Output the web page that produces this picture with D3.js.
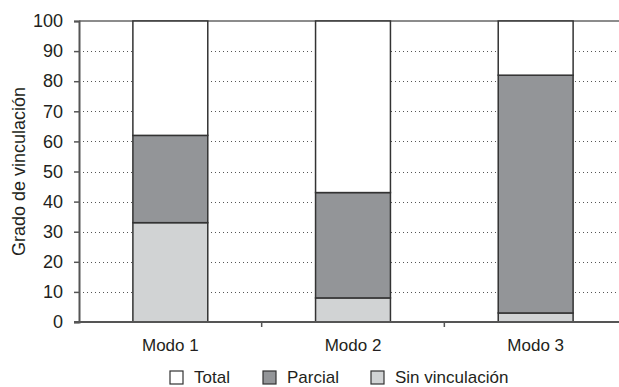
<!DOCTYPE html>
<html>
<head>
<meta charset="utf-8">
<script src="https://cdn.jsdelivr.net/npm/d3@7"></script>
<style>
  body { margin: 0; background: #fff; }
  text { font-family: "Liberation Sans", Arial, sans-serif; fill: #231f20; }
</style>
</head>
<body>
<div id="viz"></div>
<script>
const modos = ["Modo 1", "Modo 2", "Modo 3"];
const series = ["Sin vinculación", "Parcial", "Total"];
const sinVinculacion = [33, 8, 3];
const parcial = [29, 35, 79];
const total = [38, 57, 18];
const yTicks = [0, 10, 20, 30, 40, 50, 60, 70, 80, 90, 100];
const legendOrder = ["Total", "Parcial", "Sin vinculación"];

const colors = {
    "Total": "#ffffff",
    "Parcial": "#939598",
    "Sin vinculación": "#d1d3d4"
};

const width = 619;
const height = 387;
const margin = { left: 79, right: -8, top: 21, bottom: 65 };

const rows = modos.map((m, i) => ({
    modo: m,
    "Sin vinculación": sinVinculacion[i],
    "Parcial": parcial[i],
    "Total": total[i]
}));

const stacked = d3.stack().keys(series)(rows);

const svg = d3.select("#viz").append("svg")
    .attr("width", width)
    .attr("height", height);

const xScale = d3.scaleBand()
    .domain(modos)
    .range([margin.left, width - margin.right])
    .paddingInner(0.59)
    .paddingOuter(0.295);

const yScale = d3.scaleLinear()
    .domain([0, 100])
    .range([height - margin.bottom, margin.top]);

// dotted grid
svg.append("g")
    .selectAll("line")
    .data(yTicks.filter(d => d > 0 && d < 100))
    .join("line")
        .attr("x1", margin.left)
        .attr("x2", width)
        .attr("y1", d => Math.round(yScale(d)) + 0.5)
        .attr("y2", d => Math.round(yScale(d)) + 0.5)
        .attr("stroke", "#555")
        .attr("stroke-width", 1.2)
        .attr("stroke-dasharray", "1,3");

// top border
svg.append("line")
    .attr("x1", margin.left)
    .attr("x2", width)
    .attr("y1", yScale(100))
    .attr("y2", yScale(100))
    .attr("stroke", "#666")
    .attr("stroke-width", 1.5);

// bars
svg.append("g")
    .selectAll("g")
    .data(stacked)
    .join("g")
        .attr("fill", d => colors[d.key])
    .selectAll("rect")
    .data(d => d)
    .join("rect")
        .attr("x", d => xScale(d.data.modo))
        .attr("y", d => yScale(d[1]))
        .attr("width", xScale.bandwidth())
        .attr("height", d => yScale(d[0]) - yScale(d[1]))
        .attr("stroke", "#333")
        .attr("stroke-width", 1.5);

// y axis
const yAxis = svg.append("g")
    .attr("transform", `translate(${margin.left},0)`)
    .call(d3.axisLeft(yScale).tickValues(yTicks).tickSize(5).tickPadding(11));
yAxis.select(".domain").attr("stroke", "#555").attr("stroke-width", 2);
yAxis.selectAll(".tick line").attr("stroke", "#555").attr("stroke-width", 1.5);
yAxis.selectAll("text").style("font-size", "18px").attr("fill", "#231f20");

// x axis
const xAxis = svg.append("g")
    .attr("transform", `translate(0,${yScale(0)})`);
xAxis.append("line")
    .attr("x1", margin.left - 5)
    .attr("x2", width)
    .attr("stroke", "#555")
    .attr("stroke-width", 2);
xAxis.selectAll(".sep")
    .data(modos.slice(1))
    .join("line")
        .attr("class", "sep")
        .attr("x1", d => xScale(d) - xScale.step() * xScale.paddingInner() / 2)
        .attr("x2", d => xScale(d) - xScale.step() * xScale.paddingInner() / 2)
        .attr("y1", 0)
        .attr("y2", 5)
        .attr("stroke", "#555")
        .attr("stroke-width", 1.5);
xAxis.selectAll(".xlab")
    .data(modos)
    .join("text")
        .attr("class", "xlab")
        .attr("x", d => xScale(d) + xScale.bandwidth() / 2)
        .attr("y", 29)
        .attr("text-anchor", "middle")
        .style("font-size", "17px")
        .text(d => d);

// y label
svg.append("text")
    .attr("transform", `translate(25,${(yScale(0) + yScale(100)) / 2}) rotate(-90)`)
    .attr("text-anchor", "middle")
    .style("font-size", "18px")
    .text("Grado de vinculación");

// legend
const legendX = [170, 263, 371];
const legend = svg.append("g")
    .selectAll("g")
    .data(legendOrder)
    .join("g")
        .attr("transform", (d, i) => `translate(${legendX[i]},371)`);
legend.append("rect")
    .attr("width", 13)
    .attr("height", 13)
    .attr("fill", d => colors[d])
    .attr("stroke", "#333")
    .attr("stroke-width", 1.2);
legend.append("text")
    .attr("x", 24)
    .attr("y", 12)
    .style("font-size", "17px")
    .text(d => d);
</script>
</body>
</html>
